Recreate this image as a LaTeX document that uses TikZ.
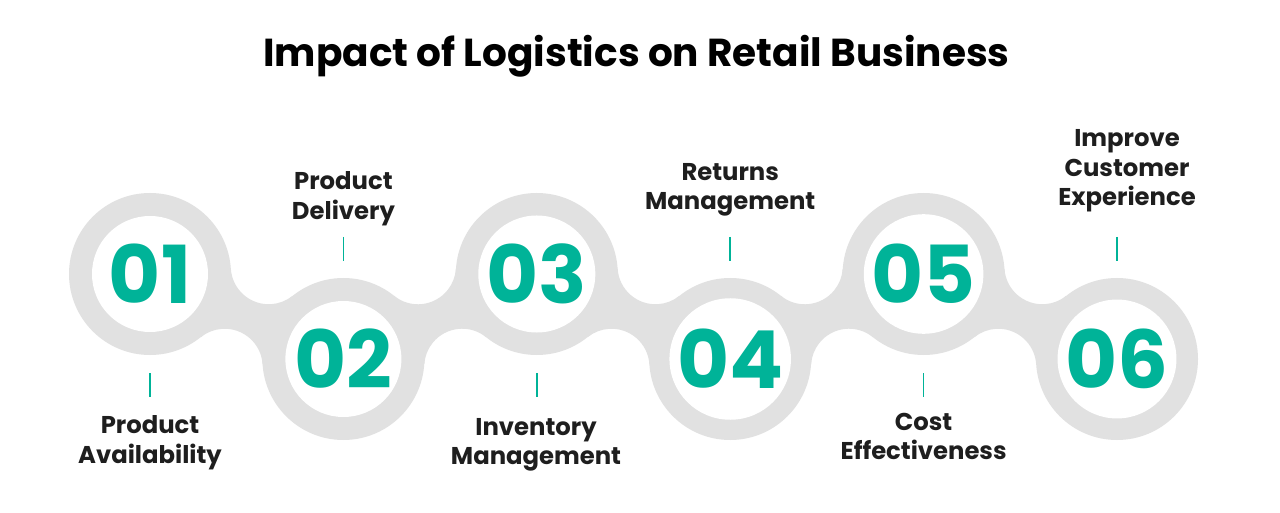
\documentclass[tikz,border=0pt]{standalone}
\usepackage{fontspec}
\setmainfont{Poppins}
\usetikzlibrary{calc}
\definecolor{ringgray}{HTML}{E1E1E1}
\definecolor{tealc}{HTML}{00B398}
\definecolor{ink}{HTML}{1E1E1E}
\newcommand\necklink[2]{%
  \coordinate (fp) at ($(#1)!0.5!(#2)!54.9pt!90:(#2)$);
  \coordinate (fm) at ($(#1)!0.5!(#2)!54.9pt!-90:(#2)$);
  \coordinate (ap) at ($(#1)!81pt!(fp)$);
  \coordinate (am) at ($(#1)!81pt!(fm)$);
  \coordinate (bp) at ($(#2)!81pt!(fp)$);
  \coordinate (bm) at ($(#2)!81pt!(fm)$);
  \fill[ringgray] let
      \p1=($(ap)-(fp)$), \p2=($(bp)-(fp)$),
      \p3=($(bm)-(fm)$), \p4=($(am)-(fm)$),
      \n1={atan2(\y1,\x1)}, \n2={atan2(\y2,\x2)},
      \n3={atan2(\y3,\x3)}, \n4={atan2(\y4,\x4)},
      \n5={mod(\n2-\n1+540,360)-180},
      \n6={mod(\n4-\n3+540,360)-180}
    in (#1) -- (ap) arc[start angle=\n1, delta angle=\n5, radius=38pt]
       -- (#2) -- (bm) arc[start angle=\n3, delta angle=\n6, radius=38pt]
       -- cycle;}
\begin{document}
\begin{tikzpicture}[x=1pt,y=1pt,
  ring/.style={circle, fill=ringgray, minimum size=162pt, inner sep=0pt},
  disc/.style={circle, fill=white, minimum size=116pt, inner sep=0pt, text=tealc,
    font=\bfseries\fontsize{80}{80}\selectfont},
  lbl/.style={align=center, text=ink, font=\bfseries\fontsize{24.3}{29.5}\selectfont},
  tickline/.style={draw=tealc, line width=1.6pt}]
\fill[white] (0,0) rectangle (1280,512);
\useasboundingbox (0,0) rectangle (1280,512);
% centres
\coordinate (c1) at (150,238);
\coordinate (c2) at (343.4,153);
\coordinate (c3) at (536.8,238);
\coordinate (c4) at (730.2,153);
\coordinate (c5) at (923.6,238);
\coordinate (c6) at (1117,153);
% necks
\necklink{c1}{c2}
\necklink{c2}{c3}
\necklink{c3}{c4}
\necklink{c4}{c5}
\necklink{c5}{c6}
% rings and discs
\foreach \i in {1,...,6} {\node[ring] (r\i) at (c\i) {};}
\node[disc] (n1) at (c1) {01};
\node[disc] (n2) at (c2) {02};
\node[disc] (n3) at (c3) {03};
\node[disc] (n4) at (c4) {04};
\node[disc] (n5) at (c5) {05};
\node[disc] (n6) at (c6) {06};
% title
\node[anchor=base, text=black, font=\bfseries\fontsize{39}{46}\selectfont] (title) at (636.5,445) {Impact of Logistics on Retail Business};
% labels
\node[lbl] (l1) at (150,69.5) {Product\\Availability};
\node[lbl] (l2) at (343.4,313.5) {Product\\Delivery};
\node[lbl] (l3) at (536,67) {Inventory\\Management};
\node[lbl] (l4) at (730.2,322) {Returns\\Management};
\node[lbl] (l5) at (923.6,75.5) {Cost\\Effectiveness};
\node[lbl] (l6) at (1127,341) {Improve\\Customer\\Experience};
% ticks
\coordinate (t1a) at (150,139);   \coordinate (t1b) at (150,115);
\coordinate (t2a) at (343.4,275); \coordinate (t2b) at (343.4,251);
\coordinate (t3a) at (536.8,139); \coordinate (t3b) at (536.8,115);
\coordinate (t4a) at (730.2,275); \coordinate (t4b) at (730.2,251);
\coordinate (t5a) at (923.6,139); \coordinate (t5b) at (923.6,115);
\coordinate (t6a) at (1117,275);  \coordinate (t6b) at (1117,251);
\foreach \i in {1,...,6} {\draw[tickline] (t\i a) -- (t\i b);}
\end{tikzpicture}
\end{document}
